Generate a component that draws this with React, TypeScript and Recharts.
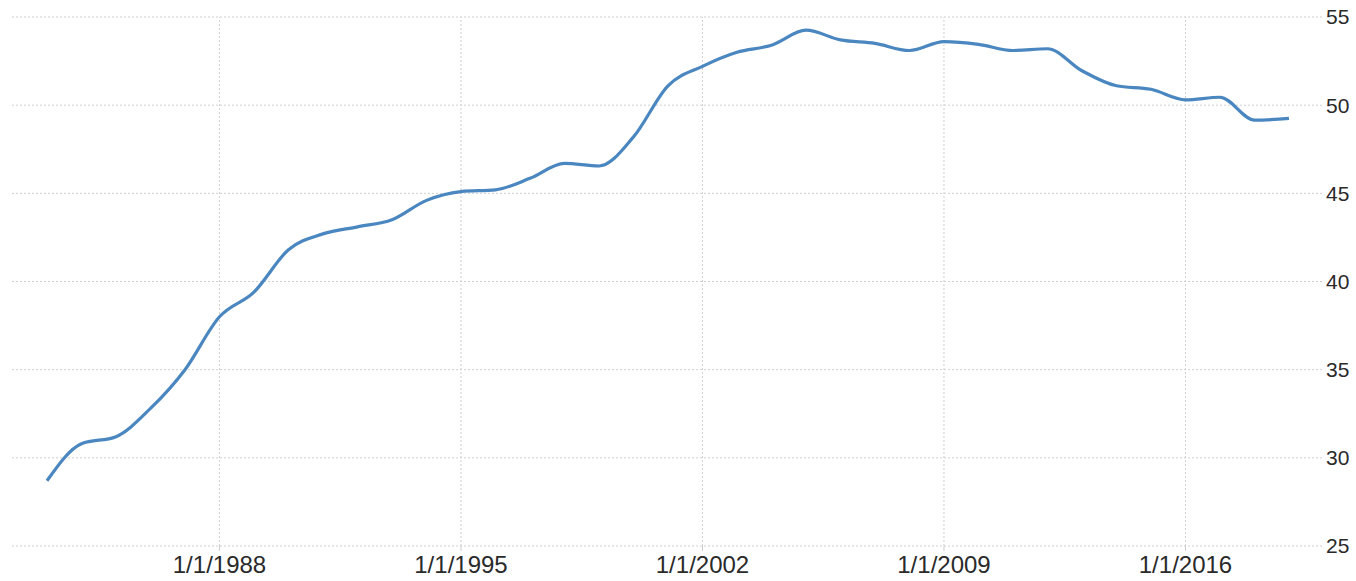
import React from 'react';
import { LineChart, Line, XAxis, YAxis, CartesianGrid, ReferenceLine } from 'recharts';

const years: number[] = [
  1983, 1984, 1985, 1986, 1987, 1988, 1989, 1990, 1991, 1992, 1993, 1994,
  1995, 1996, 1997, 1998, 1999, 2000, 2001, 2002, 2003, 2004, 2005, 2006,
  2007, 2008, 2009, 2010, 2011, 2012, 2013, 2014, 2015, 2016, 2017, 2018, 2019,
];

const values: number[] = [
  28.7, 30.8, 31.2, 32.8, 35.0, 38.0, 39.4, 41.8, 42.7, 43.1, 43.5, 44.6,
  45.1, 45.2, 45.85, 46.7, 46.55, 48.2, 51.1, 52.2, 53.0, 53.4, 54.25, 53.7,
  53.5, 53.1, 53.6, 53.45, 53.1, 53.2, 51.95, 51.1, 50.9, 50.3, 50.45, 49.15, 49.25,
];

const xTicks: number[] = [1988, 1995, 2002, 2009, 2016];
const yTicks: number[] = [25, 30, 35, 40, 45, 50, 55];

const data = years.map((y, i) => ({ year: y, value: values[i] }));

export default function App() {
  return (
    <div style={{ position: 'absolute', left: 0, top: 0, background: '#fff' }}>
      <LineChart
        width={1356}
        height={581}
        data={data}
        margin={{ top: 17, right: 0, left: 12, bottom: 0 }}
      >
        <CartesianGrid stroke="#cfcfcf" strokeDasharray="2 2" vertical={false} />
        {xTicks.map((t) => (
          <ReferenceLine key={t} x={t} stroke="#cfcfcf" strokeDasharray="2 2" />
        ))}
        <XAxis
          dataKey="year"
          type="number"
          domain={[1981.986, 2019.957]}
          ticks={xTicks}
          tickFormatter={(v: number) => `1/1/${v}`}
          height={35}
          axisLine={false}
          tickLine={{ stroke: '#cccccc' }}
          tickSize={5}
          tickMargin={5}
          tick={{ fill: '#2a2a2a', fontSize: 24, fontFamily: 'Liberation Sans, Arial, sans-serif' }}
          allowDataOverflow
        />
        <YAxis
          orientation="right"
          domain={[25, 55]}
          ticks={yTicks}
          width={34}
          axisLine={false}
          tickLine={false}
          tickSize={0}
          tickMargin={4}
          tick={{ fill: '#2a2a2a', fontSize: 21, fontFamily: 'Liberation Sans, Arial, sans-serif', textAnchor: 'start' }}
          allowDataOverflow
        />
        <Line
          type="monotone"
          dataKey="value"
          stroke="#4a86bf"
          strokeWidth={3.2}
          dot={false}
          isAnimationActive={false}
        />
      </LineChart>
    </div>
  );
}
